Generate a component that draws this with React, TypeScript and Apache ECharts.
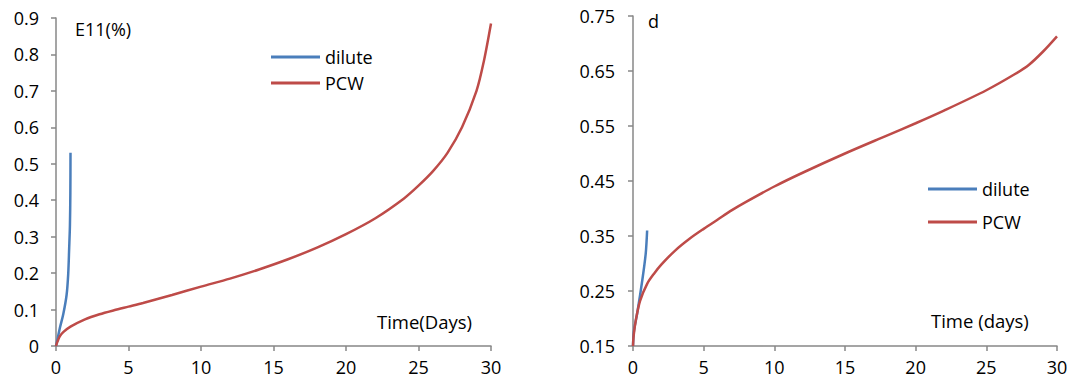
import React, { useEffect, useRef } from "react";
import * as echarts from "echarts";

// Left chart: E11(%) vs time
const leftDilute: [number, number][] = [
  [0, 0], [0.1, 0.018], [0.27, 0.05], [0.5, 0.087], [0.73, 0.14], [0.84, 0.196],
  [0.91, 0.27], [0.96, 0.33], [0.99, 0.42], [1.0, 0.53],
];
const leftPCW: [number, number][] = [
  [0, 0], [0.1, 0.012], [0.27, 0.027], [0.5, 0.038], [1, 0.053], [2, 0.073], [3, 0.087],
  [4, 0.098], [5, 0.108], [6, 0.118], [8, 0.14], [10, 0.163], [12, 0.185],
  [14, 0.21], [16, 0.238], [18, 0.27], [20, 0.307], [22, 0.35], [24, 0.405],
  [25, 0.44], [26, 0.48], [27, 0.53], [28, 0.6], [29, 0.7], [29.5, 0.78], [30, 0.885],
];
// Right chart: d vs time
const rightDilute: [number, number][] = [
  [0, 0.15], [0.07, 0.178], [0.3, 0.21], [0.66, 0.27], [0.9, 0.318], [1.0, 0.36],
];
const rightPCW: [number, number][] = [
  [0, 0.15], [0.05, 0.17], [0.2, 0.197], [0.5, 0.232], [1, 0.263], [1.5, 0.282],
  [2, 0.298], [3, 0.324], [4, 0.345], [5, 0.363], [6, 0.38], [7, 0.397], [8, 0.412],
  [10, 0.44], [12, 0.465], [15, 0.5], [18, 0.533], [20, 0.555], [22, 0.578],
  [25, 0.615], [27, 0.644], [28, 0.661], [29, 0.685], [30, 0.713],
];
const seriesNames = ["dilute", "PCW"];
const leftTitle = "E11(%)";
const rightTitle = "d";
const leftXLabel = "Time(Days)";
const rightXLabel = "Time (days)";

const BLUE = "#4A7EBB";
const RED = "#BE4B48";
const FONT = "Open Sans";

export default function App() {
  const ref = useRef<HTMLDivElement>(null);
  useEffect(() => {
    if (!ref.current) return;
    const chart = echarts.init(ref.current, undefined, { renderer: "svg" });
    const axisCommon = {
      axisLine: { show: true, lineStyle: { color: "#878787", width: 1.5 } },
      axisTick: { show: true, length: 5, lineStyle: { color: "#878787", width: 1.5 } },
      splitLine: { show: false },
      axisLabel: { color: "#000", fontSize: 18, fontFamily: FONT },
    };
    const lineCommon = {
      type: "line",
      showSymbol: false,
      symbol: "none",
      smooth: 0.3,
      animation: false,
    };
    const legendCommon = {
      data: seriesNames,
      orient: "vertical",
      padding: 0,
      itemWidth: 49,
      itemHeight: 3,
      icon: "rect",
      textStyle: { fontSize: 18, fontFamily: FONT, color: "#000" },
    };
    chart.setOption({
      animation: false,
      textStyle: { fontFamily: FONT },
      grid: [
        { left: 56, top: 18, width: 435, height: 328, containLabel: false },
        { left: 633, top: 16, width: 424, height: 330, containLabel: false },
      ],
      xAxis: [
        { ...axisCommon, type: "value", gridIndex: 0, min: 0, max: 30, interval: 5,
          axisLabel: { ...axisCommon.axisLabel, margin: 12 } },
        { ...axisCommon, type: "value", gridIndex: 1, min: 0, max: 30, interval: 5,
          axisLabel: { ...axisCommon.axisLabel, margin: 12 } },
      ],
      yAxis: [
        { ...axisCommon, type: "value", gridIndex: 0, min: 0, max: 0.9, interval: 0.1,
          axisLabel: { ...axisCommon.axisLabel, margin: 17, formatter: (v: number) => (Math.round(v * 10) / 10).toString() } },
        { ...axisCommon, type: "value", gridIndex: 1, min: 0.15, max: 0.75, interval: 0.1,
          axisLabel: { ...axisCommon.axisLabel, margin: 18, formatter: (v: number) => v.toFixed(2) } },
      ],
      legend: [
        { ...legendCommon, left: 271, top: 48, itemGap: 8 },
        { ...legendCommon, left: 928, top: 180, itemGap: 15 },
      ],
      graphic: [
        { type: "text", left: 75, top: 20, style: { text: leftTitle, fontSize: 18, fontFamily: FONT, fill: "#000" } },
        { type: "text", left: 648, top: 12, style: { text: rightTitle, fontSize: 18, fontFamily: FONT, fill: "#000" } },
        { type: "text", left: 377, top: 312, style: { text: leftXLabel, fontSize: 18.5, fontFamily: FONT, fill: "#000" } },
        { type: "text", left: 931, top: 311, style: { text: rightXLabel, fontSize: 18.5, fontFamily: FONT, fill: "#000" } },
      ],
      series: [
        { ...lineCommon, name: "dilute", xAxisIndex: 0, yAxisIndex: 0, data: leftDilute, lineStyle: { color: BLUE, width: 2.5 }, itemStyle: { color: BLUE } },
        { ...lineCommon, name: "PCW", xAxisIndex: 0, yAxisIndex: 0, data: leftPCW, lineStyle: { color: RED, width: 2.5 }, itemStyle: { color: RED } },
        { ...lineCommon, name: "dilute", xAxisIndex: 1, yAxisIndex: 1, data: rightDilute, lineStyle: { color: BLUE, width: 2.5 }, itemStyle: { color: BLUE } },
        { ...lineCommon, name: "PCW", xAxisIndex: 1, yAxisIndex: 1, data: rightPCW, lineStyle: { color: RED, width: 2.5 }, itemStyle: { color: RED } },
      ],
    });
    return () => chart.dispose();
  }, []);
  return (
    <div
      ref={ref}
      style={{ position: "absolute", left: 0, top: 0, width: 1078, height: 389, background: "#fff" }}
    />
  );
}
